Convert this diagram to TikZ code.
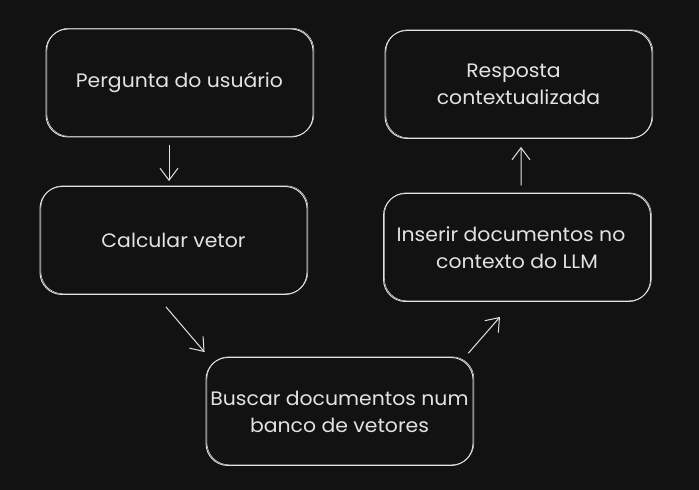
\documentclass[tikz,border=0pt]{standalone}
\usepackage{fontspec}
\setmainfont{Poppins}[FakeStretch=1.05]
\usetikzlibrary{arrows.meta,calc}
\definecolor{bg}{HTML}{121212}
\definecolor{ink}{HTML}{E3E3E3}
\begin{document}
\begin{tikzpicture}[x=1bp,y=-1bp,
  box/.style={draw=ink, line width=0.9bp, rounded corners=22bp,
    minimum width=267bp, minimum height=108bp, inner sep=0pt,
    text=ink, align=center, font=\fontsize{19.5}{27}\selectfont,
    preaction={draw=ink, line width=0.5bp,
      transform canvas={shift={(0.9bp,0.7bp)}}}},
  arr/.style={draw=ink, line width=1bp, line cap=round,
    -{Straight Barb[length=12bp,width=18bp]}}]
\fill[bg] (0,0) rectangle (699,490);
\useasboundingbox (0,0) rectangle (699,490);

\node[box] (b1) at (179.5,83) {Pergunta do usuário};
\node[box] (b2) at (173.5,240.5) {Calcular vetor};
\node[box] (b3) at (339.5,411.5) {Buscar documentos num\\banco de vetores};
\node[box] (b4) at (517,247.5) {Inserir documentos no\hspace*{12bp}\\contexto do LLM};
\node[box] (b5) at (518.5,84.5) {Resposta\hspace*{10bp}\\contextualizada};

\draw[arr] ($(b1.south)+(-10.5,8)$) -- ($(b2.north)+(-4.5,-5)$);
\draw[arr] ($(b2.south)+(-7.5,12)$) -- ($(b3.north west)+(-1,-5)$);
\draw[arr] ($(b3.north east)+(-5,-4)$) -- ($(b4.south)+(-17,15)$);
\draw[arr] ($(b4.north)+(4,-8)$) -- ($(b5.south)+(2.5,8)$);
\end{tikzpicture}
\end{document}
